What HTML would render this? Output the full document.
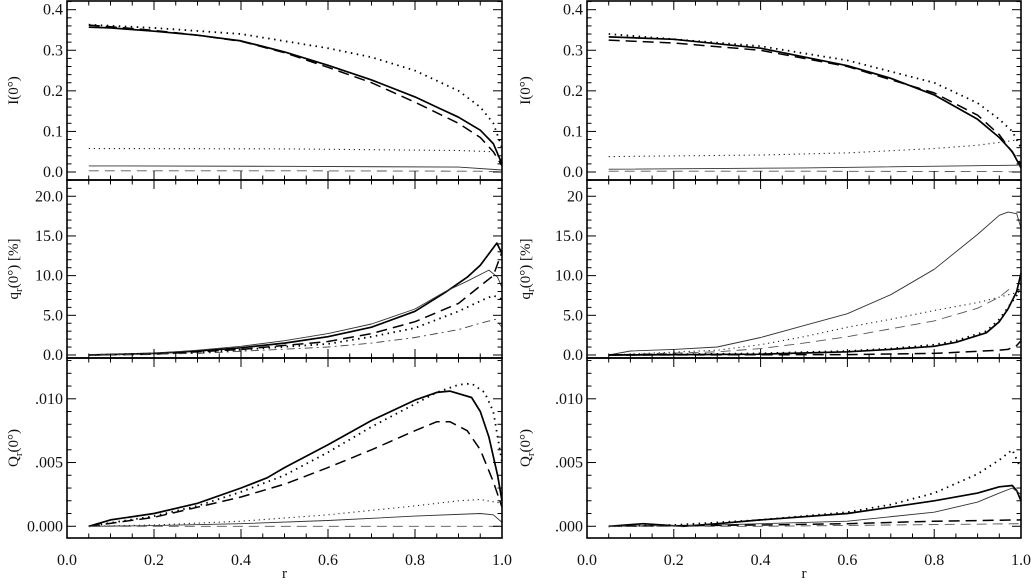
<!DOCTYPE html>
<html><head><meta charset="utf-8">
<style>
html,body{margin:0;padding:0;background:#fff;}
svg{display:block;font-family:"Liberation Serif",serif;}
</style></head>
<body>
<svg id="chart" width="1031" height="585" viewBox="0 0 1031 585"></svg>
<script>
// ---------- data ----------
// Left top: I(0)
const L1_solid_r=[0.05,0.1,0.2,0.3,0.4,0.5,0.6,0.7,0.8,0.85,0.9,0.95,0.98,1.0];
const L1_solid_v=[0.357,0.355,0.347,0.337,0.323,0.296,0.263,0.227,0.185,0.16,0.135,0.103,0.07,0.02];
const L1_dash_r=[0.05,0.1,0.2,0.3,0.4,0.5,0.6,0.7,0.8,0.9,0.95,0.98,1.0];
const L1_dash_v=[0.362,0.358,0.349,0.337,0.322,0.294,0.258,0.22,0.172,0.12,0.085,0.05,0.015];
const L1_dot_r=[0.05,0.2,0.4,0.6,0.7,0.8,0.9,0.95,0.98,1.0];
const L1_dot_v=[0.363,0.355,0.34,0.305,0.283,0.25,0.2,0.16,0.12,0.06];
const L1_tdot_r=[0.05,0.5,0.9,0.98,1.0];
const L1_tdot_v=[0.058,0.057,0.053,0.05,0.03];
const L1_tsol_r=[0.05,0.5,0.9,1.0];
const L1_tsol_v=[0.015,0.014,0.012,0.005];
const L1_tdash_r=[0.05,0.5,0.95,1.0];
const L1_tdash_v=[0.003,0.003,0.002,0.0];
// Left middle: q_r [%]
const L2_solid_r=[0.05,0.2,0.3,0.4,0.5,0.6,0.7,0.8,0.87,0.92,0.95,0.988,1.0];
const L2_solid_v=[0,0.2,0.5,0.9,1.5,2.3,3.5,5.5,7.9,9.8,11.3,14.1,12.8];
const L2_tsol_r=[0.05,0.2,0.3,0.4,0.5,0.6,0.7,0.8,0.87,0.92,0.97,0.99,1.0];
const L2_tsol_v=[0,0.2,0.6,1.1,1.8,2.7,3.9,5.8,8.0,9.3,10.7,9.8,8.5];
const L2_dash_r=[0.05,0.2,0.4,0.6,0.7,0.8,0.9,0.95,0.98,1.0];
const L2_dash_v=[0,0.1,0.7,1.7,2.7,4.2,6.5,8.7,10,13];
const L2_dot_r=[0.05,0.3,0.6,0.7,0.8,0.9,0.95,0.98,1.0];
const L2_dot_v=[0,0.3,1.4,2.3,3.4,5.5,6.8,7.5,7.0];
const L2_ddot_r=[0.05,0.3,0.6,0.7,0.8,0.9,0.95,0.985,1.0];
const L2_ddot_v=[0,0.2,1.0,1.5,2.2,3.2,4.0,4.5,3.5];
// Left bottom: Q_r (x0.001)
const L3_solid_r=[0.05,0.1,0.2,0.3,0.4,0.46,0.5,0.6,0.7,0.8,0.85,0.88,0.93,0.95,0.97,0.99,1.0];
const L3_solid_v=[0,0.5,1.0,1.8,3.0,3.8,4.6,6.4,8.3,9.9,10.5,10.6,10.1,9.0,7.0,4.0,2.0];
const L3_dot_r=[0.05,0.2,0.3,0.4,0.5,0.6,0.7,0.8,0.85,0.9,0.93,0.96,0.98,1.0];
const L3_dot_v=[0,0.8,1.6,2.7,4.0,5.8,7.8,9.6,10.5,11.1,11.2,10.5,9.0,5.0];
const L3_dash_r=[0.05,0.2,0.3,0.4,0.5,0.6,0.7,0.8,0.85,0.88,0.92,0.95,0.98,1.0];
const L3_dash_v=[0,0.7,1.5,2.3,3.3,4.6,6.0,7.5,8.2,8.2,7.5,6.0,3.5,1.5];
const L3_tdot_r=[0.05,0.2,0.4,0.6,0.8,0.9,0.95,1.0];
const L3_tdot_v=[0,0.1,0.4,0.9,1.6,2.0,2.1,1.8];
const L3_tsol_r=[0.05,0.2,0.4,0.6,0.8,0.95,0.98,1.0];
const L3_tsol_v=[0,0.05,0.2,0.45,0.8,1.0,0.9,0.3];
const L3_tdash_r=[0.05,0.5,1.0];
const L3_tdash_v=[0,0.0,0.0];
// Right top: I(0)
const R1_solid_r=[0.05,0.2,0.4,0.6,0.7,0.8,0.9,0.95,0.98,1.0];
const R1_solid_v=[0.333,0.327,0.305,0.262,0.231,0.19,0.13,0.085,0.05,0.01];
const R1_dash_r=[0.05,0.2,0.4,0.6,0.8,0.9,0.95,1.0];
const R1_dash_v=[0.325,0.318,0.3,0.26,0.195,0.14,0.092,0.02];
const R1_dot_r=[0.05,0.4,0.6,0.8,0.9,0.95,0.98,1.0];
const R1_dot_v=[0.34,0.31,0.275,0.22,0.17,0.13,0.1,0.06];
const R1_tdot_r=[0.05,0.4,0.6,0.8,0.9,0.95,1.0];
const R1_tdot_v=[0.038,0.042,0.047,0.058,0.066,0.073,0.08];
const R1_tsol_r=[0.05,0.5,1.0];
const R1_tsol_v=[0.007,0.01,0.017];
const R1_tdash_r=[0.05,0.5,0.95,1.0];
const R1_tdash_v=[0.002,0.002,0.001,0.0];
// Right middle: q_r [%]
const R2_tsol_r=[0.05,0.1,0.2,0.3,0.4,0.5,0.6,0.7,0.8,0.9,0.95,0.97,0.99,1.0];
const R2_tsol_v=[0,0.5,0.7,1.0,2.2,3.7,5.2,7.6,10.8,15.2,17.6,18.0,17.8,16.0];
const R2_tdot_r=[0.05,0.3,0.4,0.5,0.6,0.7,0.8,0.9,0.95,1.0];
const R2_tdot_v=[0,0.6,1.3,2.3,3.5,4.5,5.6,6.6,7.3,8.0];
const R2_tdash_r=[0.05,0.3,0.4,0.5,0.6,0.7,0.8,0.9,0.95,0.98];
const R2_tdash_v=[0,0.4,0.8,1.5,2.3,3.3,4.3,5.9,7.3,8.6];
const R2_solid_r=[0.05,0.4,0.6,0.7,0.8,0.85,0.92,0.95,0.97,0.99,1.0];
const R2_solid_v=[0,0.1,0.4,0.7,1.1,1.6,2.8,4.2,5.8,8.0,10.3];
const R2_dot_r=[0.05,0.4,0.6,0.7,0.8,0.85,0.92,0.95,0.97,0.99,1.0];
const R2_dot_v=[0,0.2,0.5,0.8,1.3,1.8,3.0,4.5,6.0,7.5,9.0];
const R2_dash_r=[0.05,0.6,0.8,0.95,0.97,0.99,1.0];
const R2_dash_v=[0,0.05,0.2,0.6,0.7,1.2,1.8];
// Right bottom: Q_r (x0.001)
const R3_dot_r=[0.05,0.2,0.4,0.6,0.7,0.8,0.9,0.95,0.98,1.0];
const R3_dot_v=[0,0.1,0.5,1.1,1.7,2.6,4.1,5.2,6.0,4.5];
const R3_solid_r=[0.05,0.13,0.22,0.3,0.4,0.6,0.7,0.8,0.9,0.95,0.98,0.99,1.0];
const R3_solid_v=[0,0.2,0,0.2,0.5,1.0,1.5,2.0,2.6,3.1,3.2,2.8,2.0];
const R3_tsol_r=[0.05,0.3,0.4,0.6,0.8,0.9,0.95,0.98,1.0];
const R3_tsol_v=[0,0.1,0.2,0.4,1.1,1.9,2.6,3.0,2.5];
const R3_dash_r=[0.05,0.4,0.6,0.8,1.0];
const R3_dash_v=[0,0.1,0.2,0.4,0.5];
const R3_tdash_r=[0.05,0.4,1.0];
const R3_tdash_v=[0,0.0,0.2];

// tick labels
const xTicks=[0,0.2,0.4,0.6,0.8,1.0];
const xTickLabels=["0.0","0.2","0.4","0.6","0.8","1.0"];
const yTicksI=[0,0.1,0.2,0.3,0.4];
const yLabelsI=["0.0","0.1","0.2","0.3","0.4"];
const yTicksQ=[0,5,10,15,20];
const yLabelsQL=["0.0","5.0","10.0","15.0","20.0"];
const yLabelsQR=["0.0","5.0","10.0","15.0","20"];
const yTicksQr=[0,5,10];
const yLabelsQrL=["0.000",".005",".010"];
const yLabelsQrR=[".000",".005",".010"];

// ---------- drawing ----------
const NS="http://www.w3.org/2000/svg";
const svg=document.getElementById('chart');
function mk(tag,attrs,parent){const e=document.createElementNS(NS,tag);for(const k in attrs)e.setAttribute(k,attrs[k]);(parent||svg).appendChild(e);return e;}

const cols=[{x0:67,x1:502,side:'left'},{x0:587,x1:1021,side:'right'}];
const rows=[
 {y0:1,y1:180,vmin:-0.0197,vmax:0.4214,ticks:yTicksI,minor:0.02,name:'intensity'},
 {y0:180,y1:358,vmin:-0.38,vmax:22.05,ticks:yTicksQ,minor:1,name:'q-percent'},
 {y0:358,y1:538,vmin:-0.92,vmax:13.2,ticks:yTicksQr,minor:1,name:'q-absolute'}
];
const STY={
 solid:{w:1.7,c:'#000',d:''}, dash:{w:1.5,c:'#000',d:'11 6'}, dot:{w:1.8,c:'#000',d:'1.5 4.5'},
 tsol:{w:0.9,c:'#333',d:''}, tdash:{w:0.9,c:'#555',d:'10 6'}, tdot:{w:1.1,c:'#222',d:'1.2 3.8'}, ddot:{w:0.9,c:'#444',d:'8 4 2 4'}
};
const panels=[
 [0,0,[['solid',L1_solid_r,L1_solid_v],['dash',L1_dash_r,L1_dash_v],['dot',L1_dot_r,L1_dot_v],['tdot',L1_tdot_r,L1_tdot_v],['tsol',L1_tsol_r,L1_tsol_v],['tdash',L1_tdash_r,L1_tdash_v]],yLabelsI],
 [0,1,[['solid',L2_solid_r,L2_solid_v],['tsol',L2_tsol_r,L2_tsol_v],['dash',L2_dash_r,L2_dash_v],['dot',L2_dot_r,L2_dot_v],['ddot',L2_ddot_r,L2_ddot_v]],yLabelsQL],
 [0,2,[['solid',L3_solid_r,L3_solid_v],['dot',L3_dot_r,L3_dot_v],['dash',L3_dash_r,L3_dash_v],['tdot',L3_tdot_r,L3_tdot_v],['tsol',L3_tsol_r,L3_tsol_v],['tdash',L3_tdash_r,L3_tdash_v]],yLabelsQrL],
 [1,0,[['solid',R1_solid_r,R1_solid_v],['dash',R1_dash_r,R1_dash_v],['dot',R1_dot_r,R1_dot_v],['tdot',R1_tdot_r,R1_tdot_v],['tsol',R1_tsol_r,R1_tsol_v],['tdash',R1_tdash_r,R1_tdash_v]],yLabelsI],
 [1,1,[['tsol',R2_tsol_r,R2_tsol_v],['tdot',R2_tdot_r,R2_tdot_v],['tdash',R2_tdash_r,R2_tdash_v],['solid',R2_solid_r,R2_solid_v],['dot',R2_dot_r,R2_dot_v],['dash',R2_dash_r,R2_dash_v]],yLabelsQR],
 [1,2,[['dot',R3_dot_r,R3_dot_v],['solid',R3_solid_r,R3_solid_v],['tsol',R3_tsol_r,R3_tsol_v],['dash',R3_dash_r,R3_dash_v],['tdash',R3_tdash_r,R3_tdash_v]],yLabelsQrR]
];

panels.forEach(([ci,ri,series,ylabels])=>{
  const C=cols[ci],R=rows[ri];
  const xs=r=>C.x0+r*(C.x1-C.x0);
  const ys=v=>R.y1-(v-R.vmin)/(R.vmax-R.vmin)*(R.y1-R.y0);
  const g=mk('g',{});
  
  
  series.forEach(([st,rr,vv],i)=>{
    const s=STY[st];
    const pts=rr.map((r,k)=>xs(r).toFixed(1)+','+ys(vv[k]).toFixed(1)).join(' ');
    const p=mk('polyline',{points:pts,fill:'none',stroke:s.c,'stroke-width':s.w,'stroke-dasharray':s.d,'stroke-linejoin':'round'},g);
    
    
  });
  const fr=mk('rect',{x:C.x0,y:R.y0,width:C.x1-C.x0,height:R.y1-R.y0,fill:'none',stroke:'#000','stroke-width':1.6},g);
  
  
  for(let k=0;k<=20;k++){const r=k*0.05;const L=(k%4===0)?9:4.5;const x=xs(r);
    mk('line',{x1:x,x2:x,y1:R.y1,y2:R.y1-L,stroke:'#000','stroke-width':1},g);
    mk('line',{x1:x,x2:x,y1:R.y0,y2:R.y0+L,stroke:'#000','stroke-width':1},g);}
  for(let v=0;v<=R.vmax+1e-9;v+=R.minor){
    const major=R.ticks.some(t=>Math.abs(t-v)<1e-6);const L=major?9:4.5;const y=ys(v);
    mk('line',{x1:C.x0,x2:C.x0+L,y1:y,y2:y,stroke:'#000','stroke-width':1},g);
    mk('line',{x1:C.x1,x2:C.x1-L,y1:y,y2:y,stroke:'#000','stroke-width':1},g);}
  R.ticks.forEach((t,k)=>{
    const tx=mk('text',{x:C.x0-4,y:ys(t)+5,'text-anchor':'end','font-size':16,fill:'#111'},g);
    tx.textContent=ylabels[k];
    
    
  });
  if(ri===2){
    xTicks.forEach((t,k)=>{
      const tx=mk('text',{x:xs(t),y:565,'text-anchor':'middle','font-size':16,fill:'#111'},g);
      tx.textContent=xTickLabels[k];
      
      
    });
    const xt=mk('text',{x:(C.x0+C.x1)/2,y:578,'text-anchor':'middle','font-size':15,fill:'#111'},g);
    xt.textContent='r';
    
    
  }
  const tx0=ci===0?18:530;
  const cy=(R.y0+R.y1)/2;
  const yt=mk('text',{x:tx0,y:cy,'text-anchor':'middle','font-size':15,fill:'#111',transform:`rotate(-90 ${tx0} ${cy})`},g);
  
  
  if(ri===0){yt.textContent='I(0°)';}
  else{
    const a=ri===1?'q':'Q';
    const t1=mk('tspan',{},yt);t1.textContent=a;
    const t2=mk('tspan',{dy:4,'font-size':11},yt);t2.textContent='r';
    const t3=mk('tspan',{dy:-4},yt);t3.textContent=ri===1?'(0°) [%]':'(0°)';
  }
});
</script>
</body></html>
